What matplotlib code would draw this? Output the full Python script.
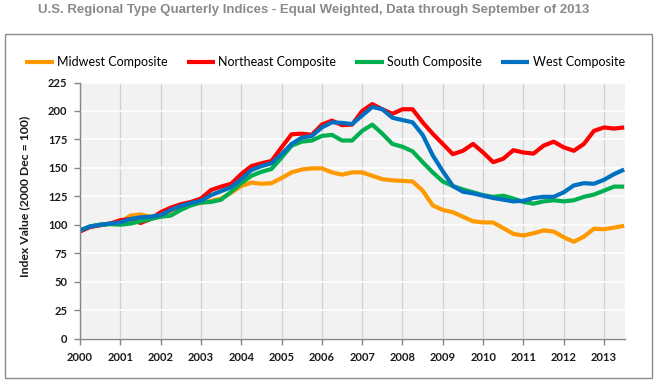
import matplotlib
matplotlib.use("Agg")
import matplotlib.pyplot as plt
from matplotlib.patches import Rectangle
import numpy as np

# ---- data ----
start_year = 2000
years = list(range(2000, 2014))
y_ticks = [0, 25, 50, 75, 100, 125, 150, 175, 200, 225]

midwest = [95, 98, 100, 101,
           102, 108, 109, 107,
           108, 112, 116, 119,
           119, 121, 123, 128,
           134, 137, 136, 136.5,
           141, 146, 148.5, 149.5,
           149.5, 146, 144, 146,
           146, 143, 140, 139,
           138.5, 138, 130, 117,
           113, 111, 107, 103,
           102, 102, 97, 92,
           90.5, 92.5, 95, 94,
           89, 85, 89.5, 96.5,
           96, 97.5, 99]

northeast = [94, 98, 99.5, 101,
             104, 105, 101.5, 105,
             111, 115, 118, 120,
             123, 130.5, 133.5, 136,
             144.5, 151.5, 154, 156,
             168, 179.5, 180, 179,
             188, 191.5, 187.5, 188,
             200, 206, 201.5, 197.5,
             201.5, 201.5, 190, 180,
             171, 162, 165, 171,
             163.5, 155, 158, 165.5,
             163.5, 162.5, 169.5, 173,
             168, 165, 171, 182.5,
             185.5, 184.5, 185.5]

south = [95, 98.5, 100, 100.5,
         100, 101, 103, 105,
         107, 108, 113, 117,
         119.5, 120, 122, 129,
         136.5, 143, 146.5, 149,
         159, 169.5, 173, 174,
         178, 179, 174, 174,
         182.5, 188, 180, 171,
         168.5, 164.5, 155, 146,
         138, 134, 131, 128.5,
         126, 124.5, 125.5, 123,
         120, 118.5, 120.5, 121.5,
         120.5, 121.5, 124.5, 126.5,
         130, 133.5, 133.5]

west = [95, 98.5, 100, 101,
        102, 105, 106.5, 107,
        108.5, 113, 116.5, 119,
        121, 126, 129.5, 133,
        140, 148, 151.5, 154,
        162, 171, 176.5, 178,
        185.5, 190, 189.5, 188.5,
        196, 203.5, 201.5, 194,
        192, 190, 179, 161,
        147, 134, 129, 127.5,
        125.5, 123.5, 122, 120.5,
        121, 123.5, 124.5, 124.5,
        128.5, 134.5, 136.5, 136,
        139.5, 144.5, 148.5]

series_names = ["Midwest Composite", "Northeast Composite", "South Composite", "West Composite"]
series_colors = ["#FF9900", "#FF0000", "#00B050", "#0070C0"]

title = "U.S. Regional Type Quarterly Indices - Equal Weighted, Data through September of 2013"
ylabel = "Index Value (2000 Dec = 100)"

# ---- figure ----
W, H, DPI = 657, 381, 100
fig = plt.figure(figsize=(W / DPI, H / DPI), dpi=DPI)
fig.patch.set_facecolor("white")

def fx(px):
    return px / W

def fy(py):
    return 1 - py / H

# outer chart border
fig.add_artist(Rectangle((fx(4.5), fy(377.5)), fx(651.5) - fx(4.5), fy(33.8) - fy(377.5),
                         transform=fig.transFigure, fill=False, edgecolor="#8c8c8c", linewidth=1.0))

ax = fig.add_axes([fx(80), fy(338.5), fx(625) - fx(80), fy(82.5) - fy(338.5)])
ax.set_facecolor("#F2F2F2")

n = len(midwest)
x = start_year + np.arange(n) / 4.0
for vals, name, col in zip([midwest, northeast, south, west], series_names, series_colors):
    ax.plot(x, vals, color=col, linewidth=3.0, label=name, solid_joinstyle="round", solid_capstyle="butt")

ax.set_xlim(start_year, start_year + (n - 1) / 4.0 + 0.02)
ax.set_ylim(0, 225)
ax.set_xticks(years)
ax.set_xticklabels([str(yv) for yv in years])
ax.set_yticks(y_ticks)
ax.set_yticklabels([str(v) for v in y_ticks])

ax.grid(axis="y", color="white", linewidth=1.2)
ax.grid(axis="x", color="#D0D0D0", linewidth=0.9)
ax.set_axisbelow(True)

for s in ["top", "right"]:
    ax.spines[s].set_visible(False)
for s in ["left", "bottom"]:
    ax.spines[s].set_color("#868686")
    ax.spines[s].set_linewidth(1.0)

ax.tick_params(axis="both", direction="out", color="#868686", length=4, width=1.0,
               labelcolor="#1a1a1a")
for lab in ax.get_xticklabels() + ax.get_yticklabels():
    lab.set_fontfamily(["Lato", "DejaVu Sans"])
    lab.set_fontweight("bold")
    lab.set_fontsize(8.0)
ax.tick_params(axis="x", pad=6)
ax.tick_params(axis="y", pad=5)

ylab = fig.text(fx(25), fy(196), ylabel, rotation=90, ha="center", va="center",
                family=["Lato", "DejaVu Sans"], weight="bold", fontsize=8.6, color="#1a1a1a")

ttl = fig.text(fx(38.5), fy(10), title, ha="left", va="center",
               family=["Liberation Sans Narrow", "Liberation Sans", "DejaVu Sans"],
               weight="bold", fontsize=9.5, color="#8a8a8a")

leg = fig.legend(loc="center", bbox_to_anchor=(fx(325), fy(62)), ncol=4, frameon=False,
                 prop=dict(family=["Lato", "DejaVu Sans"], size=9.0),
                 handlelength=2.3, handletextpad=0.25, columnspacing=1.5)
for line in leg.get_lines():
    line.set_linewidth(3.0)

# fit text widths to the reference extents
fig.canvas.draw()
r = fig.canvas.get_renderer()
wt = ttl.get_window_extent(r).width
ttl.set_fontsize(ttl.get_fontsize() * 555.0 / wt)
hy = ylab.get_window_extent(r).height
ylab.set_fontsize(ylab.get_fontsize() * 160.0 / hy)

fig.savefig("out.png", dpi=DPI, facecolor="white")
